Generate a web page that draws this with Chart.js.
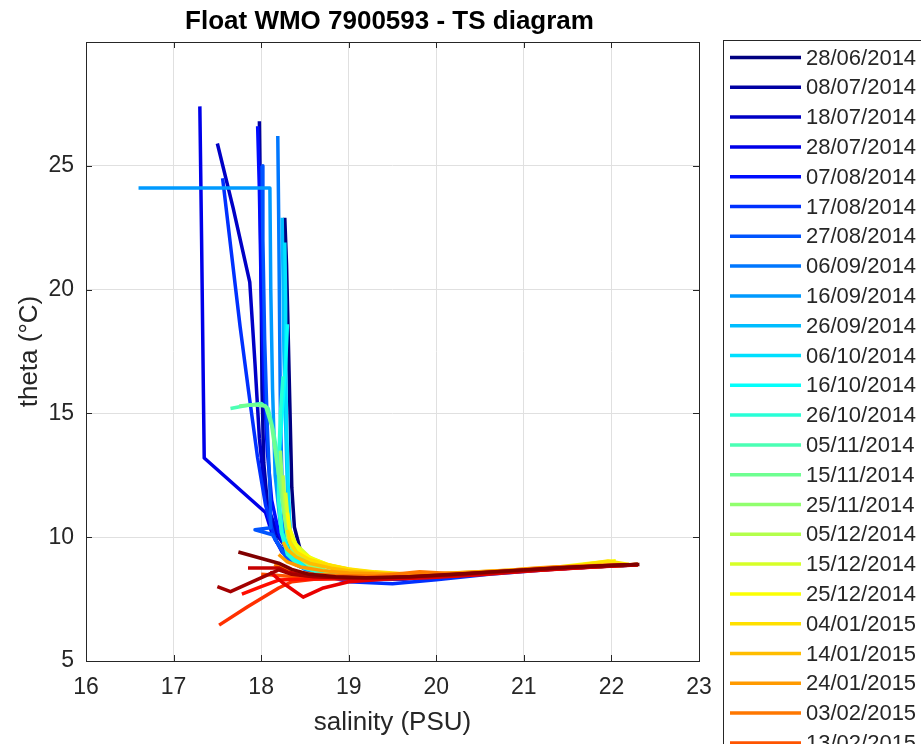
<!DOCTYPE html>
<html>
<head>
<meta charset="utf-8">
<title>Float WMO 7900593 - TS diagram</title>
<script src="https://cdn.jsdelivr.net/npm/chart.js@4.4.1/dist/chart.umd.min.js"></script>
<style>
  html, body { margin: 0; padding: 0; background: #fff; overflow: hidden; }
  #wrap { width: 921px; height: 744px; position: relative; }
</style>
</head>
<body>
<div id="wrap"><canvas id="ts-chart"></canvas></div>
<script>
// profile dates (one every 10 days)
const profileDates = [
  '28/06/2014', '08/07/2014', '18/07/2014', '28/07/2014', '07/08/2014',
  '17/08/2014', '27/08/2014', '06/09/2014', '16/09/2014', '26/09/2014',
  '06/10/2014', '16/10/2014', '26/10/2014', '05/11/2014', '15/11/2014',
  '25/11/2014', '05/12/2014', '15/12/2014', '25/12/2014', '04/01/2015',
  '14/01/2015', '24/01/2015', '03/02/2015', '13/02/2015', '23/02/2015',
  '05/03/2015', '15/03/2015', '25/03/2015', '04/04/2015', '14/04/2015'
];

// salinity (PSU), one list per profile, surface -> bottom
const salinity = [
  [18.27, 18.29, 18.31, 18.33, 18.35, 18.38, 18.46, 18.65, 19.0, 19.5, 20.0, 20.5, 21.0, 21.5, 22.0, 22.25],
  [17.98, 17.99, 18.0, 18.01, 18.03, 18.08, 18.18, 18.35, 18.6, 19.0, 19.5, 20.0, 20.6, 21.2, 21.8, 22.3],
  [17.5, 17.68, 17.87, 17.93, 17.98, 18.05, 18.2, 18.38, 18.7, 19.1, 19.6, 20.2, 20.8, 21.4, 22.0, 22.3],
  [17.3, 17.32, 17.34, 17.35, 18.05, 18.12, 18.24, 18.42, 18.75, 19.1, 19.6, 20.2, 20.8, 21.4, 22.0, 22.28],
  [17.96, 17.98, 18.0, 18.03, 18.07, 18.12, 18.2, 18.32, 18.55, 18.9, 19.4, 20.0, 20.6, 21.2, 21.8, 22.3],
  [17.56, 17.66, 17.76, 17.86, 17.96, 18.05, 18.16, 18.33, 18.6, 19.0, 19.5, 20.0, 20.6, 21.3, 22.0, 22.3],
  [18.01, 18.02, 18.04, 18.07, 18.1, 18.11, 17.93, 18.13, 18.3, 18.55, 18.9, 19.4, 20.0, 20.6, 21.2, 21.8, 22.25],
  [18.19, 18.2, 18.21, 18.22, 18.24, 18.27, 18.33, 18.5, 18.8, 19.2, 19.7, 20.3, 20.9, 21.5, 22.1, 22.3],
  [16.6, 18.1, 18.11, 18.13, 18.16, 18.22, 18.3, 18.45, 18.75, 19.1, 19.6, 20.2, 20.8, 21.4, 22.0, 22.28],
  [18.24, 18.25, 18.26, 18.28, 18.3, 18.33, 18.38, 18.52, 18.8, 19.2, 19.7, 20.3, 20.9, 21.5, 22.1, 22.3],
  [18.27, 18.28, 18.28, 18.29, 18.31, 18.33, 18.38, 18.52, 18.8, 19.2, 19.7, 20.3, 20.9, 21.5, 22.1, 22.3],
  [18.3, 18.28, 18.24, 18.2, 18.2, 18.24, 18.33, 18.5, 18.8, 19.2, 19.7, 20.3, 20.9, 21.5, 22.1, 22.3],
  [18.25, 18.22, 18.2, 18.2, 18.23, 18.3, 18.45, 18.75, 19.1, 19.6, 20.2, 20.8, 21.4, 22.0, 22.3],
  [17.65, 17.8, 18.0, 18.08, 18.14, 18.2, 18.25, 18.32, 18.45, 18.75, 19.1, 19.6, 20.2, 20.8, 21.4, 22.0, 22.3],
  [17.75, 17.9, 18.05, 18.12, 18.18, 18.24, 18.3, 18.4, 18.6, 18.9, 19.3, 19.8, 20.4, 21.0, 21.6, 22.2],
  [18.22, 18.24, 18.26, 18.3, 18.38, 18.55, 18.8, 19.2, 19.7, 20.3, 20.9, 21.5, 22.1, 22.3],
  [18.25, 18.27, 18.3, 18.35, 18.45, 18.6, 18.85, 19.2, 19.7, 20.3, 20.9, 21.5, 22.1, 22.3],
  [18.28, 18.3, 18.33, 18.4, 18.55, 18.75, 19.0, 19.4, 19.9, 20.5, 21.1, 21.7, 22.2],
  [18.3, 18.32, 18.36, 18.45, 18.6, 18.8, 19.1, 19.5, 20.0, 20.6, 21.2, 21.78, 22.05],
  [18.3, 18.33, 18.4, 18.55, 18.75, 19.0, 19.3, 19.7, 20.2, 20.8, 21.4, 21.96, 22.2],
  [18.25, 18.3, 18.4, 18.55, 18.8, 19.1, 19.5, 20.0, 20.6, 21.2, 21.8, 22.2],
  [18.2, 18.3, 18.45, 18.7, 19.0, 19.4, 19.9, 20.27, 20.84, 21.1, 21.33, 22.0, 22.3],
  [18.15, 18.25, 18.4, 18.6, 18.9, 19.3, 19.81, 20.3, 20.8, 21.4, 21.9, 22.3],
  [18.0, 18.2, 18.4, 18.7, 19.1, 19.6, 20.2, 20.8, 21.4, 22.0, 22.3],
  [17.52, 17.85, 18.2, 18.35, 18.6, 19.0, 19.5, 20.1, 20.7, 21.3, 21.9, 22.3],
  [17.78, 18.0, 18.2, 18.4, 18.7, 19.1, 19.6, 20.2, 20.8, 21.4, 22.0, 22.3],
  [18.1, 18.25, 18.48, 18.71, 19.0, 19.4, 19.9, 20.5, 21.1, 21.7, 22.2],
  [17.85, 18.2, 18.3, 18.5, 18.8, 19.2, 19.7, 20.3, 20.9, 21.5, 22.1, 22.3],
  [17.5, 17.65, 18.2, 18.35, 18.6, 19.0, 19.5, 20.1, 20.7, 21.3, 21.9, 22.3],
  [17.74, 18.2, 18.35, 18.55, 18.85, 19.2, 19.7, 20.3, 20.9, 21.5, 22.1, 22.32]
];

// potential temperature (degC), same shape as salinity
const theta = [
  [22.9, 21.0, 18.0, 15.0, 12.0, 10.4, 9.3, 8.7, 8.4, 8.33, 8.42, 8.52, 8.64, 8.75, 8.84, 8.88],
  [26.8, 24.0, 20.0, 16.0, 13.0, 11.0, 9.8, 9.0, 8.6, 8.38, 8.3, 8.4, 8.55, 8.7, 8.82, 8.9],
  [25.9, 23.3, 20.3, 17.0, 14.0, 11.5, 10.0, 9.1, 8.6, 8.35, 8.32, 8.45, 8.6, 8.74, 8.85, 8.89],
  [27.4, 22.0, 16.0, 13.2, 11.0, 10.2, 9.4, 8.9, 8.55, 8.35, 8.3, 8.44, 8.6, 8.73, 8.85, 8.88],
  [26.6, 24.0, 20.0, 16.5, 13.5, 11.5, 10.2, 9.2, 8.7, 8.4, 8.32, 8.42, 8.56, 8.7, 8.83, 8.9],
  [24.5, 21.5, 18.5, 15.8, 13.2, 11.3, 9.9, 9.0, 8.55, 8.2, 8.12, 8.28, 8.5, 8.7, 8.85, 8.89],
  [25.0, 22.0, 18.0, 14.5, 12.0, 10.38, 10.3, 10.1, 9.1, 8.65, 8.4, 8.3, 8.42, 8.55, 8.7, 8.83, 8.88],
  [26.2, 23.0, 19.0, 15.0, 12.0, 10.2, 9.3, 8.7, 8.45, 8.35, 8.35, 8.47, 8.62, 8.76, 8.87, 8.9],
  [24.1, 24.1, 20.0, 16.0, 12.5, 10.5, 9.4, 8.8, 8.5, 8.38, 8.33, 8.45, 8.6, 8.74, 8.85, 8.88],
  [22.9, 20.5, 17.5, 14.5, 12.0, 10.3, 9.3, 8.75, 8.48, 8.38, 8.36, 8.48, 8.62, 8.76, 8.86, 8.9],
  [21.9, 19.5, 17.0, 14.5, 12.0, 10.3, 9.3, 8.8, 8.5, 8.38, 8.36, 8.48, 8.62, 8.76, 8.86, 8.9],
  [18.6, 17.0, 15.0, 13.0, 11.5, 10.2, 9.3, 8.75, 8.48, 8.38, 8.36, 8.48, 8.62, 8.76, 8.86, 8.9],
  [16.5, 15.0, 13.0, 11.5, 10.2, 9.3, 8.8, 8.5, 8.38, 8.35, 8.46, 8.6, 8.74, 8.85, 8.89],
  [15.2, 15.3, 15.4, 15.2, 14.3, 13.0, 11.5, 10.2, 9.2, 8.6, 8.4, 8.36, 8.46, 8.6, 8.74, 8.85, 8.89],
  [15.3, 15.35, 15.3, 14.5, 13.0, 11.5, 10.2, 9.3, 8.8, 8.5, 8.38, 8.38, 8.5, 8.65, 8.78, 8.88],
  [13.5, 12.2, 11.0, 10.0, 9.3, 8.85, 8.55, 8.42, 8.38, 8.5, 8.64, 8.77, 8.87, 8.9],
  [12.5, 11.5, 10.6, 10.0, 9.4, 9.0, 8.7, 8.5, 8.42, 8.52, 8.65, 8.78, 8.87, 8.9],
  [11.8, 11.0, 10.3, 9.7, 9.2, 8.9, 8.7, 8.52, 8.45, 8.55, 8.68, 8.8, 8.88],
  [11.0, 10.4, 9.9, 9.4, 9.1, 8.85, 8.65, 8.52, 8.48, 8.58, 8.72, 8.96, 9.05],
  [10.3, 9.8, 9.4, 9.1, 8.9, 8.72, 8.6, 8.5, 8.5, 8.62, 8.75, 9.04, 8.9],
  [9.8, 9.5, 9.2, 8.95, 8.75, 8.6, 8.5, 8.52, 8.62, 8.75, 8.85, 8.9],
  [9.3, 9.0, 8.8, 8.65, 8.55, 8.5, 8.5, 8.56, 8.67, 8.75, 8.8, 8.88, 8.9],
  [8.9, 8.75, 8.6, 8.5, 8.45, 8.42, 8.6, 8.5, 8.62, 8.8, 8.86, 8.9],
  [8.5, 8.45, 8.4, 8.38, 8.36, 8.38, 8.48, 8.62, 8.76, 8.86, 8.9],
  [6.45, 7.2, 7.95, 8.2, 8.3, 8.33, 8.35, 8.45, 8.6, 8.74, 8.85, 8.9],
  [7.7, 8.0, 8.27, 8.3, 8.32, 8.33, 8.34, 8.44, 8.58, 8.72, 8.84, 8.88],
  [8.6, 8.15, 7.58, 7.95, 8.2, 8.3, 8.36, 8.48, 8.64, 8.78, 8.87],
  [8.76, 8.76, 8.6, 8.45, 8.38, 8.35, 8.38, 8.48, 8.62, 8.76, 8.86, 8.9],
  [8.0, 7.8, 8.68, 8.5, 8.4, 8.35, 8.37, 8.47, 8.6, 8.74, 8.85, 8.9],
  [9.4, 8.95, 8.7, 8.5, 8.4, 8.36, 8.4, 8.52, 8.66, 8.79, 8.88, 8.9]
];

const salinityTicks = [16, 17, 18, 19, 20, 21, 22, 23];
const thetaTicks = [5, 10, 15, 20, 25];

const FONT = "'Liberation Sans', Arial, Helvetica, sans-serif";
const AXIS_COLOR = '#262626';
const GRID_COLOR = '#e0e0e0';

// matlab-like jet colormap
function jet(t) {
  const clamp = v => Math.max(0, Math.min(1, v));
  const r = clamp(1.5 - Math.abs(4 * t - 3));
  const g = clamp(1.5 - Math.abs(4 * t - 2));
  const b = clamp(1.5 - Math.abs(4 * t - 1));
  return `rgb(${Math.round(r * 255)}, ${Math.round(g * 255)}, ${Math.round(b * 255)})`;
}

const profileColors = profileDates.map((d, i) => jet(i / (profileDates.length - 1)));

const datasets = profileDates.map((date, i) => ({
  label: date,
  data: salinity[i].map((s, k) => ({ x: s, y: theta[i][k] })),
  borderColor: profileColors[i],
  backgroundColor: profileColors[i],
  borderWidth: 3.5,
  borderJoinStyle: 'round',
  pointRadius: 0,
  pointHoverRadius: 0,
  tension: 0,
  fill: false,
  showLine: true,
  order: profileDates.length - i   // later profiles on top
}));

// box, inward ticks, title and the (clipped) legend
const frame = {
  id: 'frame',
  afterDraw(chart) {
    const { ctx, chartArea: a, scales } = chart;
    const tick = 6;
    ctx.save();
    ctx.strokeStyle = AXIS_COLOR;
    ctx.lineWidth = 1;
    ctx.beginPath();
    salinityTicks.forEach(v => {
      const x = Math.round(scales.x.getPixelForValue(v)) + 0.5;
      ctx.moveTo(x, a.bottom); ctx.lineTo(x, a.bottom - tick);
      ctx.moveTo(x, a.top); ctx.lineTo(x, a.top + tick);
    });
    thetaTicks.forEach(v => {
      const y = Math.round(scales.y.getPixelForValue(v)) + 0.5;
      ctx.moveTo(a.left, y); ctx.lineTo(a.left + tick, y);
      ctx.moveTo(a.right, y); ctx.lineTo(a.right - tick, y);
    });
    ctx.stroke();
    ctx.strokeRect(Math.round(a.left) + 0.5, Math.round(a.top) + 0.5,
      Math.round(a.right - a.left), Math.round(a.bottom - a.top));

    // title
    ctx.fillStyle = '#000';
    ctx.font = `bold 26px ${FONT}`;
    ctx.textAlign = 'center';
    ctx.textBaseline = 'middle';
    ctx.fillText('Float WMO 7900593 - TS diagram', (a.left + a.right) / 2 - 3, 22);

    // legend (runs past the bottom edge, as in the original figure)
    const lx = 723.5, ly = 40.5;
    ctx.fillStyle = '#fff';
    ctx.fillRect(lx, ly, 400, 900);
    ctx.strokeStyle = AXIS_COLOR;
    ctx.strokeRect(lx, ly, 400, 900);
    ctx.font = `22px ${FONT}`;
    ctx.textAlign = 'left';
    profileDates.forEach((d, i) => {
      const y = 57.5 + i * 29.8;
      ctx.strokeStyle = profileColors[i];
      ctx.lineWidth = 3.5;
      ctx.beginPath();
      ctx.moveTo(730, y); ctx.lineTo(801, y);
      ctx.stroke();
      ctx.fillStyle = AXIS_COLOR;
      ctx.fillText(d, 806, y + 1);
    });
    ctx.restore();
  }
};

new Chart(document.getElementById('ts-chart'), {
  type: 'line',
  data: { datasets },
  options: {
    responsive: true,
    maintainAspectRatio: false,
    animation: false,
    events: [],
    layout: { padding: { top: 42, right: 222, bottom: 0, left: 0 } },
    plugins: {
      legend: { display: false },
      tooltip: { enabled: false },
      title: { display: false }
    },
    scales: {
      x: {
        type: 'linear',
        min: 16,
        max: 23,
        afterFit: s => { s.height = 83; },
        ticks: {
          stepSize: 1,
          padding: 13,
          color: AXIS_COLOR,
          font: { family: FONT, size: 23 },
          maxRotation: 0,
          callback: v => salinityTicks.includes(v) ? v : ''
        },
        grid: { color: GRID_COLOR, drawTicks: false },
        border: { display: false },
        title: {
          display: true,
          text: 'salinity (PSU)',
          color: AXIS_COLOR,
          font: { family: FONT, size: 26 },
          padding: { top: 0, bottom: 6 }
        }
      },
      y: {
        type: 'linear',
        min: 5,
        max: 30,
        afterFit: s => { s.width = 86; },
        ticks: {
          stepSize: 5,
          padding: 12,
          color: AXIS_COLOR,
          font: { family: FONT, size: 23 },
          callback: v => thetaTicks.includes(v) ? v : ''
        },
        grid: { color: GRID_COLOR, drawTicks: false },
        border: { display: false },
        title: {
          display: true,
          text: 'theta (°C)',
          color: AXIS_COLOR,
          font: { family: FONT, size: 26 },
          padding: { top: 14, bottom: 0 }
        }
      }
    }
  },
  plugins: [frame]
});
</script>
</body>
</html>
